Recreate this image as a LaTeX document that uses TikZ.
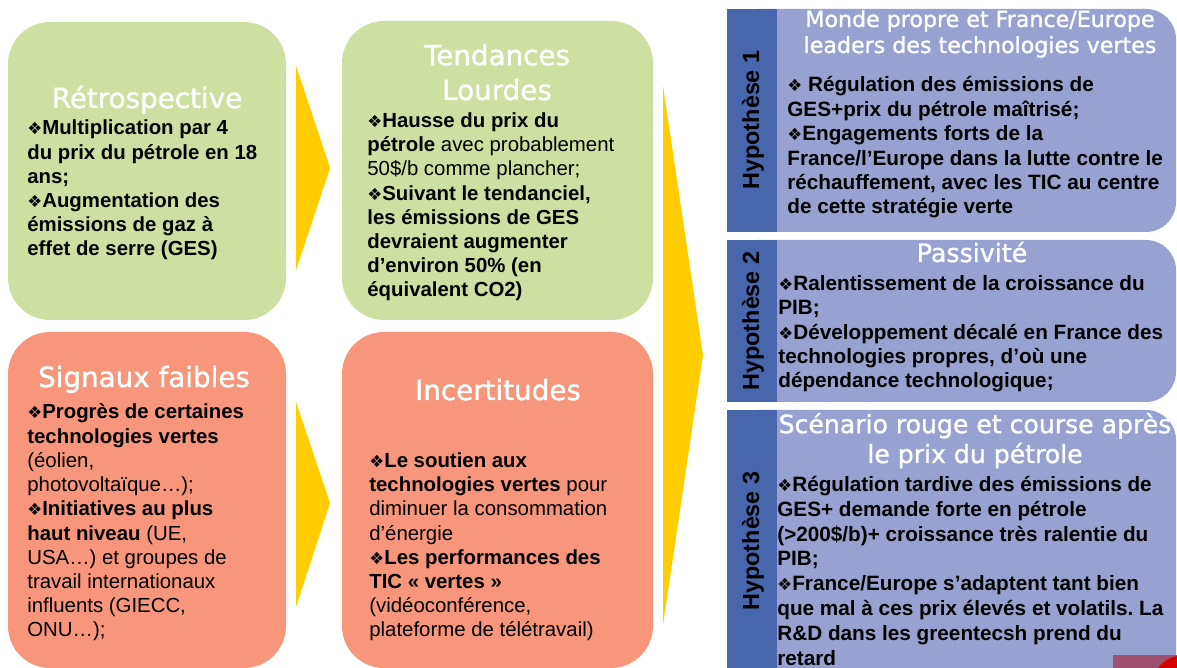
\documentclass[tikz,border=0pt]{standalone}
\usepackage{fontspec}
\setmainfont{Liberation Sans}
\newfontfamily\titlefont[RawFeature={embolden=1.2}]{DejaVu Sans}
\newfontfamily\dingfont{DejaVu Sans}
\definecolor{vert}{RGB}{206,224,161}
\definecolor{saumon}{RGB}{247,150,122}
\definecolor{jaune}{RGB}{255,204,0}
\definecolor{bleufonce}{RGB}{72,102,172}
\definecolor{bleuclair}{RGB}{151,162,208}
\definecolor{mauve}{RGB}{160,80,110}
\newcommand{\bul}{{\dingfont\mdseries\fontsize{9.5}{9}\selectfont ❖}}
\frenchspacing
\begin{document}
\begin{tikzpicture}[x=0.02cm, y=-0.02cm,
    panneau/.style={rounded corners=0.84cm},
    titre/.style={font=\titlefont\fontsize{15.8}{19.8}\selectfont, text=white, align=center, inner sep=0, anchor=base},
    corps/.style={font=\fontsize{11.6}{13.8}\selectfont\bfseries, align=left, anchor=base west, inner sep=0},
    hcorps/.style={font=\fontsize{11.8}{13.9}\selectfont\bfseries, align=left, anchor=base west, inner sep=0},
    hypo/.style={font=\fontsize{13.3}{16}\selectfont\bfseries, rotate=90, inner sep=0}]
    \useasboundingbox (0,0) rectangle (1177,668);
    \clip (0,0) rectangle (1177,668);

    % Cadres de gauche
    \fill[vert, panneau] (8,22) rectangle (286,320);
    \fill[vert, panneau] (342,21) rectangle (653,320);
    \fill[saumon, panneau] (8,332) rectangle (286,668);
    \fill[saumon, panneau] (342,332) rectangle (653,668);

    % Fleches
    \fill[jaune] (296,66) -- (330,168) -- (296,270) -- cycle;
    \fill[jaune] (296,402) -- (330,503) -- (296,607) -- cycle;
    \fill[jaune] (663,86) -- (703,355) -- (663,625) -- cycle;

    % Hypotheses
    \fill[bleuclair, rounded corners=0.6cm] (727,9) rectangle (1176,232);
    \fill[bleuclair, rounded corners=0.6cm] (727,240) rectangle (1176,402);
    \fill[bleuclair, rounded corners=0.6cm] (727,410) rectangle (1176,700);
    \fill[bleufonce] (727,9) rectangle (777,232);
    \fill[bleufonce] (727,240) rectangle (777,402);
    \fill[bleufonce] (727,410) rectangle (777,700);
    \fill[mauve] (1113,655) rectangle (1177,668);
    \fill[red!85!black] (1158,668) to[bend left=20] (1177,656) -- (1177,668) -- cycle;

    % Retrospective (ancre = ligne de base de la derniere ligne)
    \node[titre] (retroT) at (147,108) {Rétrospective};
    \node[corps] (retroB) at (27,256) {\bul Multiplication par 4\\du prix du pétrole en 18\\ans;\\\bul Augmentation des\\émissions de gaz à\\effet de serre (GES)};

    % Tendances lourdes
    \node[titre] (tendT) at (497,100) {Tendances\\Lourdes};
    \node[corps] (tendB) at (367,297) {\bul Hausse du prix du\\pétrole \textmd{avec probablement}\\\textmd{50\$/b comme plancher;}\\\bul Suivant le tendanciel,\\les émissions de GES\\devraient augmenter\\d’environ 50\% (en\\équivalent CO2)};

    % Signaux faibles
    \node[titre] (sigT) at (144,387) {Signaux faibles};
    \node[corps] (sigB) at (27,637) {\bul Progrès de certaines\\technologies vertes\\\textmd{(éolien,}\\\textmd{photovoltaïque…);}\\\bul Initiatives au plus\\haut niveau \textmd{(UE,}\\\textmd{USA…) et groupes de}\\\textmd{travail internationaux}\\\textmd{influents (GIECC,}\\\textmd{ONU…);}};

    % Incertitudes
    \node[titre] (incT) at (498,400) {Incertitudes};
    \node[corps] (incB) at (369,637) {\bul Le soutien aux\\technologies vertes \textmd{pour}\\\textmd{diminuer la consommation}\\\textmd{d’énergie}\\\bul Les performances des\\TIC « vertes »\\\textmd{(vidéoconférence,}\\\textmd{plateforme de télétravail)}};

    % Hypothese 1
    \node[hypo] (h1) at (753,120) {Hypothèse 1};
    \node[titre, font=\titlefont\fontsize{12.6}{14.8}\selectfont] (h1T) at (980,53) {Monde propre et France/Europe\\leaders des technologies vertes};
    \node[hcorps] (h1B) at (787,214) {\bul\ Régulation des émissions de\\GES+prix du pétrole maîtrisé;\\\bul Engagements forts de la\\France/l’Europe dans la lutte contre le\\réchauffement, avec les TIC au centre\\de cette stratégie verte};

    % Hypothese 2
    \node[hypo] (h2) at (753,321) {Hypothèse 2};
    \node[titre, font=\titlefont\fontsize{14.4}{17}\selectfont] (h2T) at (972,262) {Passivité};
    \node[hcorps] (h2B) at (778,388) {\bul Ralentissement de la croissance du\\PIB;\\\bul Développement décalé en France des\\technologies propres, d’où une\\dépendance technologique;};

    % Hypothese 3
    \node[hypo] (h3) at (753,541) {Hypothèse 3};
    \node[titre, font=\titlefont\fontsize{14.3}{17}\selectfont] (h3T) at (975,463) {Scénario rouge et course après\\le prix du pétrole};
    \node[hcorps, font=\fontsize{11.8}{14.1}\selectfont\bfseries] (h3B) at (777,665) {\bul Régulation tardive des émissions de\\GES+ demande forte en pétrole\\(>200\$/b)+ croissance très ralentie du\\PIB;\\\bul France/Europe s’adaptent tant bien\\que mal à ces prix élevés et volatils. La\\R\&D dans les greentecsh prend du\\retard};
\end{tikzpicture}
\end{document}
